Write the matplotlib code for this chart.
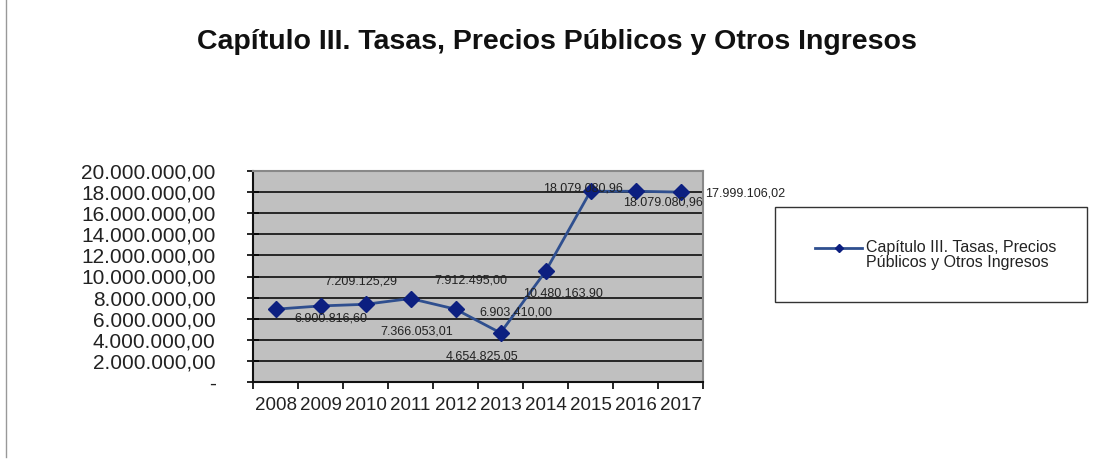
import numpy as np
import matplotlib
matplotlib.use("Agg")
from matplotlib import pyplot as plt
from matplotlib.ticker import FuncFormatter, MultipleLocator
from matplotlib.patches import Rectangle
from matplotlib.lines import Line2D

plt.rcParams['font.family'] = ['Liberation Sans', 'DejaVu Sans']

years = ["2008", "2009", "2010", "2011", "2012", "2013", "2014", "2015", "2016", "2017"]
ingresos = [6900816.60, 7209125.29, 7366053.01, 7912495.00, 6903410.00,
            4654825.05, 10480163.90, 18079080.96, 18079080.96, 17999106.02]
serie_nombre = "Capítulo III. Tasas, Precios\nPúblicos y Otros Ingresos"
titulo = "Capítulo III. Tasas, Precios Públicos y Otros Ingresos"

# desplazamiento de las etiquetas (pixeles), como sale en la exportacion
label_off = [(55, -9), (40, 24), (51, -27), (60, 18), (60, -3),
             (-19, -24), (17, -22), (-8, 3), (27, -11), (65, -1)]

LINE_C = "#2f4f8f"
MARK_C = "#0c1f80"


def fmt_es(v, pos=None):
    if v == 0:
        return "-"
    s = f"{v:,.2f}"
    return s.replace(",", "X").replace(".", ",").replace("X", ".")


fig = plt.figure(figsize=(10.93, 4.62), dpi=100)
ax = fig.add_axes([253 / 1093, 80 / 462, 450 / 1093, 211 / 462])
ax.set_facecolor("#c0c0c0")

x = np.arange(len(years))
ax.plot(x, ingresos, color=LINE_C, lw=2, marker="D", ms=8,
        mfc=MARK_C, mec=MARK_C, zorder=3)

for i, v in enumerate(ingresos):
    ax.annotate(fmt_es(v), (x[i], v), xytext=label_off[i], textcoords="offset pixels",
                ha="center", va="center", fontsize=9, color="#222222", zorder=4)

ax.set_xlim(-0.5, len(years) - 0.5)
ax.set_ylim(0, 20000000)
ax.yaxis.set_major_locator(MultipleLocator(2000000))
ax.yaxis.set_major_formatter(FuncFormatter(fmt_es))
ax.yaxis.grid(True, color="#1a1a1a", lw=1.3)
ax.set_axisbelow(True)

ax.set_xticks(x)
ax.set_xticklabels(years)
ax.set_xticks(np.arange(-0.5, len(years)), minor=True)
ax.tick_params(axis="x", which="major", length=0, labelsize=13.5, pad=11, labelcolor="#222222")
ax.tick_params(axis="x", which="minor", length=5, direction="out", width=1.2)
ax.tick_params(axis="y", length=8, direction="inout", width=1.2, labelsize=15,
               pad=23, labelcolor="#222222")

for s in ["left", "bottom"]:
    ax.spines[s].set_color("#111111")
    ax.spines[s].set_linewidth(1.5)
for s in ["top", "right"]:
    ax.spines[s].set_color("#888888")
    ax.spines[s].set_linewidth(1.5)

fig.text(557 / 1093, 1 - 42 / 462, titulo, ha="center", va="center",
         fontsize=20.5, fontweight="bold", color="#111111")

# recuadro de la leyenda, hecho a mano
fig.patches.append(Rectangle((775 / 1093, 1 - 302 / 462), 312 / 1093, 95 / 462,
                             transform=fig.transFigure, fill=False,
                             edgecolor="#333333", lw=1))
ly = 1 - 248 / 462
fig.add_artist(Line2D([815 / 1093, 862 / 1093], [ly, ly], transform=fig.transFigure,
                      color=LINE_C, lw=2))
fig.add_artist(Line2D([839 / 1093], [ly], transform=fig.transFigure, marker="D",
                      ms=4.5, mfc=MARK_C, mec=MARK_C, ls="none"))
fig.text(866 / 1093, 1 - 255 / 462, serie_nombre, ha="left", va="center",
         fontsize=11.5, color="#222222", linespacing=1.0)

fig.add_artist(Line2D([6 / 1093, 6 / 1093], [0.01, 1.0], transform=fig.transFigure,
                      color="#999999", lw=1))

fig.savefig("out.png", dpi=100)
